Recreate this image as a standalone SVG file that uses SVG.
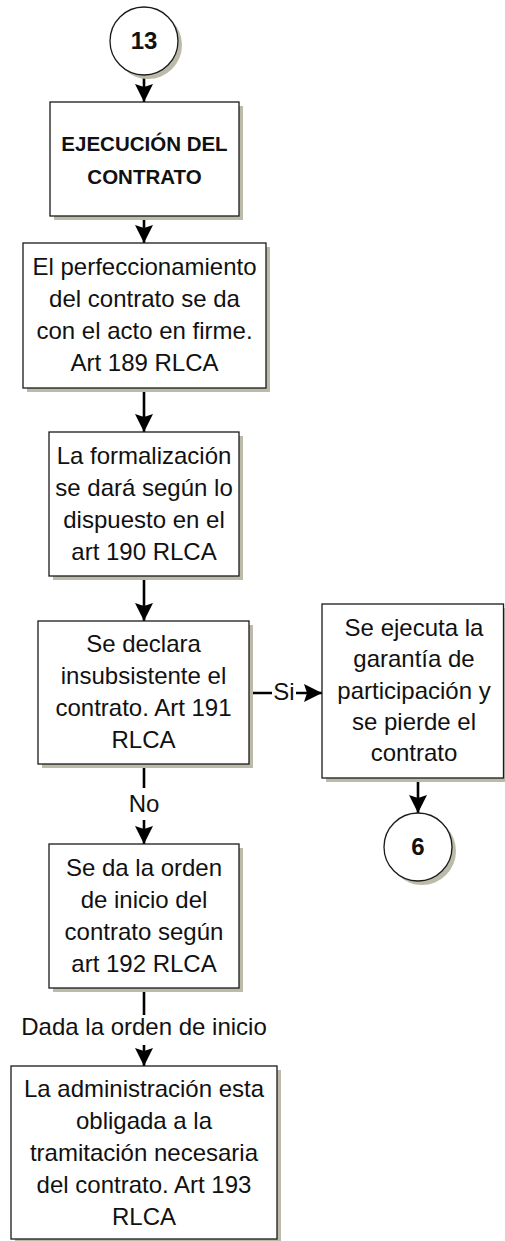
<svg xmlns="http://www.w3.org/2000/svg" width="505" height="1241" viewBox="0 0 505 1241">
<style>
.box{fill:#fff;stroke:#1a1a1a;stroke-width:1.3}
.sh{fill:#bcbaa8}
.t{font-family:"Liberation Sans",Arial,sans-serif;font-size:24px;fill:#111;text-anchor:middle}
.b{font-weight:bold}
.c{fill:none;stroke:#000;stroke-width:2.6}
</style>
<defs>
<marker id="arr" markerWidth="18" markerHeight="18" refX="18" refY="9" orient="auto" markerUnits="userSpaceOnUse" viewBox="0 0 18 18">
<path d="M0,0 L18,9 L0,18 L3,9 Z" fill="#000"/>
</marker>
</defs>
<rect width="505" height="1241" fill="#fff"/>

<g id="connectors">
<line class="c" x1="144" y1="76" x2="144" y2="102" marker-end="url(#arr)"/>
<line class="c" x1="144" y1="216" x2="144" y2="243" marker-end="url(#arr)"/>
<line class="c" x1="144" y1="388" x2="144" y2="432" marker-end="url(#arr)"/>
<line class="c" x1="144" y1="576" x2="144" y2="621" marker-end="url(#arr)"/>
<line class="c" x1="249" y1="693" x2="322" y2="693" marker-end="url(#arr)"/>
<rect x="272" y="678" width="24" height="28" fill="#fff"/>
<text class="t" x="284" y="700">Si</text>
<line class="c" x1="418" y1="778" x2="418" y2="813" marker-end="url(#arr)"/>
<line class="c" x1="144" y1="764" x2="144" y2="844" marker-end="url(#arr)"/>
<rect x="126" y="788" width="36" height="32" fill="#fff"/>
<text class="t" x="144" y="812">No</text>
<line class="c" x1="144" y1="988" x2="144" y2="1066" marker-end="url(#arr)"/>
<rect x="18" y="1015" width="252" height="30" fill="#fff"/>
<text class="t" x="144" y="1035">Dada la orden de inicio</text>
</g>

<g id="n13">
<circle class="sh" cx="148" cy="45" r="34"/>
<circle class="box" cx="144" cy="41" r="34"/>
<text class="t b" x="144" y="49">13</text>
</g>

<g id="ejecucion">
<rect class="sh" x="54" y="106" width="189" height="114"/>
<rect class="box" x="50" y="102" width="189" height="114"/>
<text class="t b" style="font-size:20.5px" x="144.5" y="151">EJECUCIÓN DEL</text>
<text class="t b" style="font-size:20.5px" x="144.5" y="184">CONTRATO</text>
</g>

<g id="perfeccionamiento">
<rect class="sh" x="27" y="247" width="243" height="145"/>
<rect class="box" x="23" y="243" width="243" height="145"/>
<text class="t" x="144.5" y="275">El perfeccionamiento</text>
<text class="t" x="144.5" y="307">del contrato se da</text>
<text class="t" x="144.5" y="339">con el acto en firme.</text>
<text class="t" x="144.5" y="371">Art 189 RLCA</text>
</g>

<g id="formalizacion">
<rect class="sh" x="53" y="436" width="190" height="144"/>
<rect class="box" x="49" y="432" width="190" height="144"/>
<text class="t" x="144" y="464">La formalización</text>
<text class="t" x="144" y="496">se dará según lo</text>
<text class="t" x="144" y="528">dispuesto en el</text>
<text class="t" x="144" y="560">art 190 RLCA</text>
</g>

<g id="insubsistente">
<rect class="sh" x="42" y="625" width="211" height="143"/>
<rect class="box" x="38" y="621" width="211" height="143"/>
<text class="t" x="143.5" y="652">Se declara</text>
<text class="t" x="143.5" y="684">insubsistente el</text>
<text class="t" x="143.5" y="716">contrato. Art 191</text>
<text class="t" x="143.5" y="748">RLCA</text>
</g>

<g id="garantia">
<rect class="sh" x="326" y="608" width="182" height="174"/>
<rect class="box" x="322" y="604" width="181.5" height="174"/>
<text class="t" x="414" y="636">Se ejecuta la</text>
<text class="t" x="414" y="667">garantía de</text>
<text class="t" x="414" y="699">participación y</text>
<text class="t" x="414" y="730">se pierde el</text>
<text class="t" x="414" y="761">contrato</text>
</g>

<g id="n6">
<circle class="sh" cx="422" cy="851" r="34"/>
<circle class="box" cx="418" cy="847" r="34"/>
<text class="t b" x="418" y="855">6</text>
</g>

<g id="orden">
<rect class="sh" x="53" y="848" width="190" height="144"/>
<rect class="box" x="49" y="844" width="190" height="144"/>
<text class="t" x="144" y="876">Se da la orden</text>
<text class="t" x="144" y="908">de inicio del</text>
<text class="t" x="144" y="940">contrato según</text>
<text class="t" x="144" y="972">art 192 RLCA</text>
</g>

<g id="administracion">
<rect class="sh" x="15" y="1070" width="266" height="173"/>
<rect class="box" x="11" y="1066" width="266" height="173"/>
<text class="t" x="144" y="1097">La administración esta</text>
<text class="t" x="144" y="1129">obligada a la</text>
<text class="t" x="144" y="1161">tramitación necesaria</text>
<text class="t" x="144" y="1193">del contrato. Art 193</text>
<text class="t" x="144" y="1225">RLCA</text>
</g>
</svg>
